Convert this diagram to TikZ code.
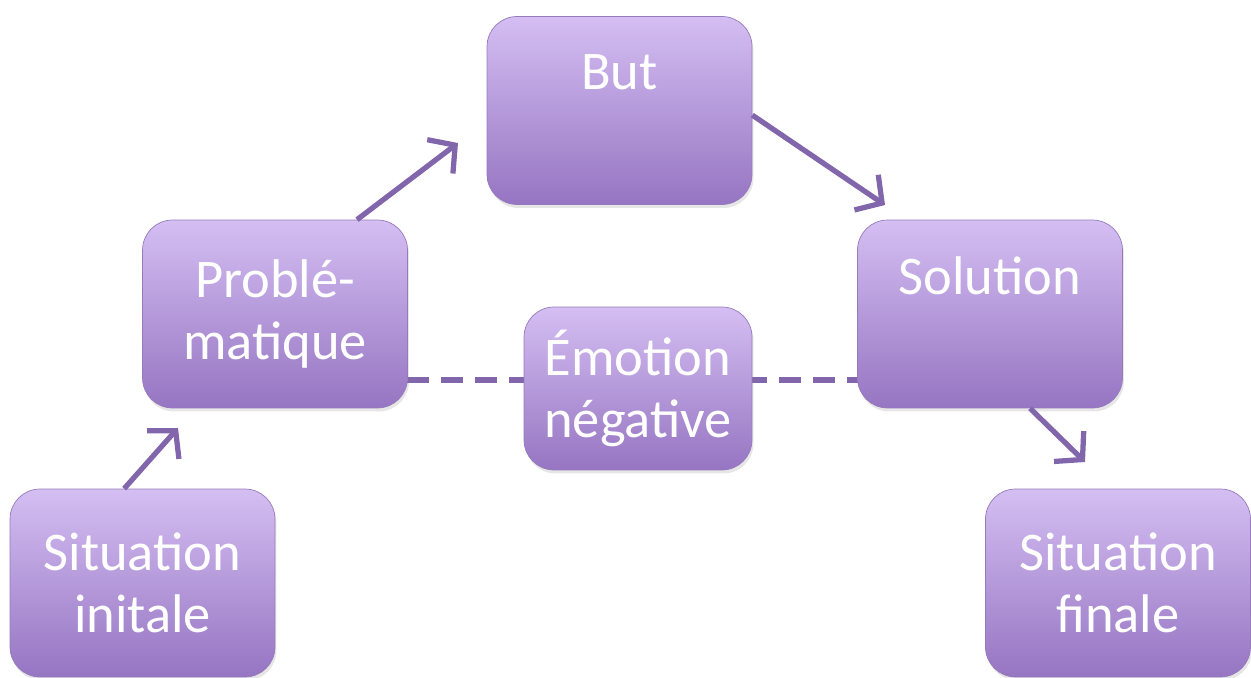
\documentclass[tikz,border=0pt]{standalone}
\usepackage{fontspec}
\setmainfont{Carlito}
\usetikzlibrary{arrows.meta,shadows}
\definecolor{boxtop}{RGB}{212,190,242}
\definecolor{boxbottom}{RGB}{150,117,194}
\definecolor{boxline}{RGB}{150,122,188}
\definecolor{arrowcol}{RGB}{130,102,172}

\begin{document}
\begin{tikzpicture}
[
    x=0.02cm,y=-0.02cm,
    mybox/.style={rectangle,rounded corners=0.6cm,minimum width=5.3cm,minimum height=3.76cm,align=center,
        top color=boxtop,bottom color=boxbottom,draw=boxline,thin,text=white,
        font=\fontsize{31}{35}\selectfont,
        drop shadow={opacity=0.2,shadow xshift=0.03cm,shadow yshift=-0.07cm}},
    smallbox/.style={mybox,minimum width=4.56cm,minimum height=3.26cm},
    flow/.style={draw=arrowcol,line width=3pt,-{Straight Barb[length=3.8mm,width=8.5mm,line width=3pt]}},
    link/.style={draw=arrowcol,line width=3.4pt,dash pattern=on 0.44cm off 0.24cm}
]
\useasboundingbox (0,0) rectangle (1251,678);

\coordinate (toBut) at (458,143);
\coordinate (toSol) at (885,205);
\coordinate (toProb) at (178,428);
\coordinate (toFin) at (1085,462);

% liens en pointille sous les boites
\draw[link] (407,380) -- (540,380);
\draw[link] (745,380) -- (858,380);

\node (but) at (619.5,110.5) [mybox] {But\\[9pt]~};
\node (prob) at (275,314) [mybox] {Problé-\\matique};
\node (sol) at (990,314) [mybox] {Solution\\[9pt]~};
\node (emo) at (638,388.5) [smallbox] {Émotion\\négative};
\node (init) at (142.5,583) [mybox] {Situation\\initale};
\node (fin) at (1118,583) [mybox] {Situation\\finale};

\draw[flow] (init.101) -- (toProb);
\draw[flow] (prob.49.5) -- (toBut);
\draw[flow] (but.-2.8) -- (toSol);
\draw[flow] (sol.-67) -- (toFin);

\end{tikzpicture}
\end{document}
